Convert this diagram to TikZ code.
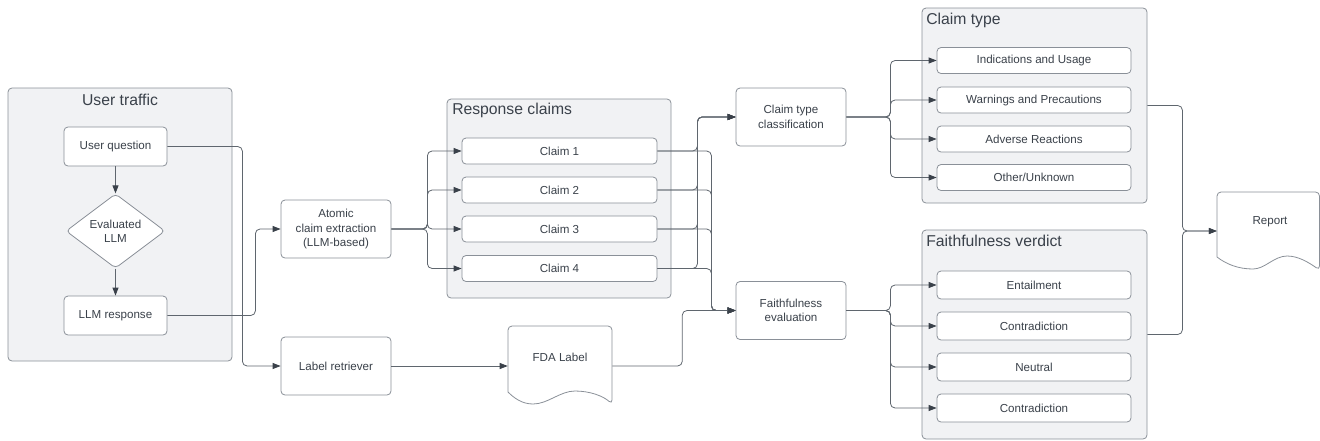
\documentclass[tikz,border=0pt]{standalone}
\usepackage{fontspec}
\setmainfont{Liberation Sans}
\usetikzlibrary{arrows.meta,shapes.geometric}
\definecolor{txt}{HTML}{3A414A}
\definecolor{ln}{HTML}{5F666E}
\definecolor{bd}{HTML}{8A9098}
\definecolor{cf}{HTML}{F1F2F4}
\tikzset{
 box/.style={draw=bd, line width=0.6pt, rounded corners=3pt, fill=white, text=txt,
   font=\fontsize{8.7}{10.8}\selectfont, align=center, inner sep=0pt},
 smallbox/.style={box, minimum width=77.25pt, minimum height=29.25pt},
 midbox/.style={box, minimum width=82.5pt, minimum height=43.5pt},
 claimbox/.style={box, minimum width=146.25pt, minimum height=19.5pt},
 typebox/.style={box, minimum width=145.5pt, minimum height=19.5pt},
 verdbox/.style={box, minimum width=145.5pt, minimum height=21pt},
 cont/.style={draw=bd, line width=0.6pt, rounded corners=3pt, fill=cf, inner sep=0pt},
 ttl/.style={text=txt, font=\fontsize{11.8}{14}\selectfont, inner sep=0pt},
 lbl/.style={text=txt, font=\fontsize{8.7}{10.8}\selectfont, inner sep=0pt},
 conn/.style={draw=ln, line width=0.6pt, rounded corners=3.5pt,
   -{Triangle[length=6pt,width=4.5pt,color=txt]}},
 docshape/.style={draw=bd, line width=0.6pt, fill=white},
}
\begin{document}
\begin{tikzpicture}[x=0.75pt,y=-0.75pt]
\useasboundingbox (0,0) rectangle (1320,440);

% containers
\node[cont, minimum width=168pt, minimum height=204.75pt] (ut) at (120,224.5) {};
\node[ttl] (utt) at (120,99.5) {User traffic};
\node[cont, minimum width=168pt, minimum height=149.25pt] (rc) at (559,198.5) {};
\node[ttl, anchor=west] (rct) at (452,110) {Response claims};
\node[cont, minimum width=168.75pt, minimum height=146.25pt] (ct) at (1034.5,105.5) {};
\node[ttl, anchor=west] (ctt) at (926,20) {Claim type};
\node[cont, minimum width=168.75pt, minimum height=156.75pt] (fv) at (1034.5,334.5) {};
\node[ttl, anchor=west] (fvt) at (926,241) {Faithfulness verdict};

% boxes (coordinates for connectors)
\node[smallbox] (uq) at (115.5,146.5) {User question};
\node[box, diamond, minimum width=74.25pt, minimum height=55.5pt] (llm) at (115.5,231) {Evaluated\\LLM};
\node[smallbox] (lr) at (115.5,315.5) {LLM response};
\node[midbox] (ace) at (336,229) {Atomic\\claim extraction\\(LLM-based)};
\node[midbox] (lret) at (336,366) {Label retriever};
\node[claimbox] (c1) at (559.5,151) {Claim 1};
\node[claimbox] (c2) at (559.5,190) {Claim 2};
\node[claimbox] (c3) at (559.5,229) {Claim 3};
\node[claimbox] (c4) at (559.5,268.5) {Claim 4};
\node[midbox] (ctc) at (791,117) {Claim type\\classification};
\node[midbox] (fe) at (791,310.5) {Faithfulness\\evaluation};
\node[typebox] (t1) at (1034,60.5) {Indications and Usage};
\node[typebox] (t2) at (1034,100) {Warnings and Precautions};
\node[typebox] (t3) at (1034,139) {Adverse Reactions};
\node[typebox] (t4) at (1034,177.5) {Other/Unknown};
\node[verdbox] (v1) at (1034,285) {Entailment};
\node[verdbox] (v2) at (1034,326) {Contradiction};
\node[verdbox] (v3) at (1034,367) {Neutral};
\node[verdbox] (v4) at (1034,408) {Contradiction};

% document shapes
\draw[docshape] (508,392) [rounded corners=3pt] -- (508,326) -- (612,326) -- (612,404) [sharp corners]
  .. controls (603,396) and (590,391) .. (575,391) .. controls (560,391) and (548,404) .. (533,404)
  .. controls (522,404) and (514,398) .. (508,392) -- cycle;
\node[inner sep=0pt, minimum width=78pt, minimum height=1pt] (fda) at (560,366) {};
\node[lbl] (fdal) at (560,357) {FDA Label};
\draw[docshape] (1217,257) [rounded corners=3pt] -- (1217,192) -- (1319.5,192) -- (1319.5,270) [sharp corners]
  .. controls (1308,262) and (1298,256) .. (1287,256) .. controls (1274,256) and (1265,269) .. (1253,269)
  .. controls (1238,269) and (1226,264) .. (1217,257) -- cycle;
\node[inner sep=0pt, minimum width=77.25pt, minimum height=1pt] (rep) at (1268.5,231) {};
\node[lbl] (repl) at (1270,222) {Report};

% connectors
\draw[conn] (uq.south) -- (llm.north);
\draw[conn] (llm.south) -- (lr.north);
\draw[conn] (uq.east) -- ++(75,0) |- (lret.west);
\draw[conn] (lr.east) -- ++(88,0) |- (ace.west);
\foreach \c in {c1,c2,c3,c4}{
  \draw[conn] (ace.east) -- ++(36,0) |- (\c.west);
  \draw[conn] (\c.east) -- ++(40,0) |- (ctc.west);
  \draw[conn] (\c.east) -- ++(54,0) |- (fe.west);
}
\draw[conn] (lret.east) -- (fda.west);
\draw[conn] (fda.east) -- ++(70,0) |- (fe.west);
\foreach \t in {t1,t2,t3,t4}{
  \draw[conn] (ctc.east) -- ++(44,0) |- (\t.west);
}
\foreach \v in {v1,v2,v3,v4}{
  \draw[conn] (fe.east) -- ++(44,0) |- (\v.west);
}
\draw[conn] (ct.east) -- ++(35,0) |- (rep.west);
\draw[conn] (fv.east) -- ++(35,0) |- (rep.west);
\end{tikzpicture}
\end{document}
